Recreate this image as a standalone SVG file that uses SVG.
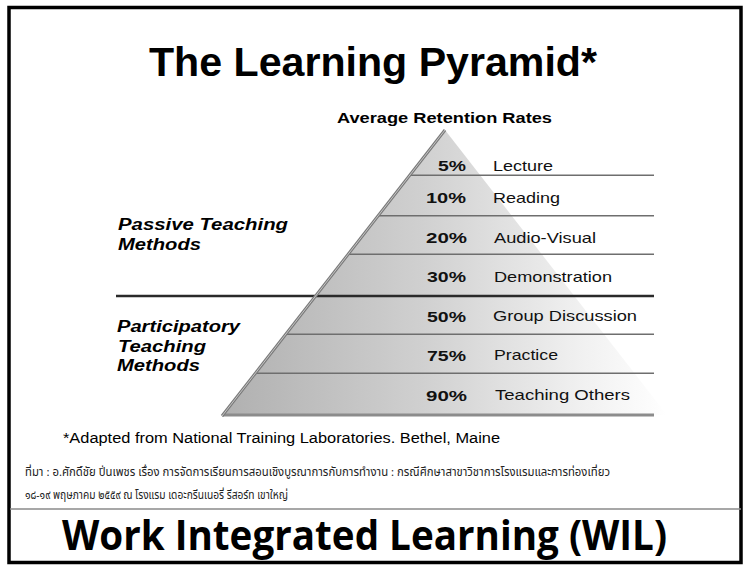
<svg xmlns="http://www.w3.org/2000/svg" width="746" height="565" viewBox="0 0 746 565">
<defs>
<linearGradient id="pyr" gradientUnits="userSpaceOnUse" x1="223" y1="0" x2="667" y2="0">
<stop offset="0" stop-color="#b0b0b0"/>
<stop offset="0.45" stop-color="#d0d0d0"/>
<stop offset="0.8" stop-color="#f0f0f0"/>
<stop offset="1" stop-color="#ffffff"/>
</linearGradient>
<style>
.ar{font-family:"Liberation Sans",Arial,sans-serif;fill:#000}
.b{font-weight:bold}
.bi{font-weight:bold;font-style:italic}
.pct{font-family:"Liberation Sans",Arial,sans-serif;font-weight:bold;font-size:15px;text-anchor:end;fill:#111}
.lbl{font-family:"Liberation Sans",Arial,sans-serif;font-size:15px;fill:#111}
.div{stroke:#6e6e6e;stroke-width:1.5;fill:none}
.thai{font-family:"Noto Sans Thai",Tahoma,"Noto Sans","DejaVu Sans",sans-serif;font-size:11.5px;fill:#222}
</style>
</defs>
<rect x="0" y="0" width="746" height="565" fill="#fff"/>
<rect x="9" y="7.5" width="732" height="555" fill="none" stroke="#000" stroke-width="3.5"/>
<line x1="10" y1="509" x2="741" y2="509" stroke="#8a8a8a" stroke-width="1.5"/>

<g id="title">
<text class="ar b" x="149" y="76" font-size="40" textLength="448" lengthAdjust="spacingAndGlyphs">The Learning Pyramid*</text>
</g>
<g id="subtitle">
<text class="ar b" x="337" y="123" font-size="14" textLength="215" lengthAdjust="spacingAndGlyphs">Average Retention Rates</text>
</g>

<g id="pyramid">
<polygon points="445,130 223,415 667,415" fill="url(#pyr)"/>
</g>

<g id="connectors">
<line class="div" x1="409.7" y1="175.3" x2="654" y2="175.3"/>
<line class="div" x1="378.2" y1="215.7" x2="654" y2="215.7"/>
<line class="div" x1="348.2" y1="254.3" x2="654" y2="254.3"/>
<line x1="116" y1="296" x2="654" y2="296" stroke="#2a2a2a" stroke-width="2.5"/>
<line class="div" x1="285.8" y1="334.3" x2="654" y2="334.3"/>
<line class="div" x1="255.5" y1="373.3" x2="654" y2="373.3"/>
<line x1="222" y1="415" x2="654" y2="415" stroke="#8c8c8c" stroke-width="3"/>
<line x1="445" y1="130" x2="222" y2="416" stroke="#7a7a7a" stroke-width="3"/>
<line x1="445" y1="130" x2="222" y2="416" stroke="#d8d8d8" stroke-width="0.8"/>
</g>

<g id="row-lecture">
<text class="pct" x="466" y="170.5" textLength="28" lengthAdjust="spacingAndGlyphs">5%</text>
<text class="lbl" x="493" y="170.5" textLength="60" lengthAdjust="spacingAndGlyphs">Lecture</text>
</g>
<g id="row-reading">
<text class="pct" x="466" y="203" textLength="40" lengthAdjust="spacingAndGlyphs">10%</text>
<text class="lbl" x="493" y="203" textLength="67" lengthAdjust="spacingAndGlyphs">Reading</text>
</g>
<g id="row-av">
<text class="pct" x="467" y="242.5" textLength="41" lengthAdjust="spacingAndGlyphs">20%</text>
<text class="lbl" x="494" y="242.5" textLength="102" lengthAdjust="spacingAndGlyphs">Audio-Visual</text>
</g>
<g id="row-demo">
<text class="pct" x="466" y="281.5" textLength="39" lengthAdjust="spacingAndGlyphs">30%</text>
<text class="lbl" x="494" y="281.5" textLength="118" lengthAdjust="spacingAndGlyphs">Demonstration</text>
</g>
<g id="row-group">
<text class="pct" x="466" y="321.5" textLength="39" lengthAdjust="spacingAndGlyphs">50%</text>
<text class="lbl" x="493" y="321" textLength="144" lengthAdjust="spacingAndGlyphs">Group Discussion</text>
</g>
<g id="row-practice">
<text class="pct" x="466" y="360.5" textLength="39" lengthAdjust="spacingAndGlyphs">75%</text>
<text class="lbl" x="494" y="360" textLength="64" lengthAdjust="spacingAndGlyphs">Practice</text>
</g>
<g id="row-teaching">
<text class="pct" x="467" y="401" textLength="41" lengthAdjust="spacingAndGlyphs">90%</text>
<text class="lbl" x="495" y="400" textLength="135" lengthAdjust="spacingAndGlyphs">Teaching Others</text>
</g>

<g id="passive">
<text class="ar bi" font-size="16" x="118" y="230" textLength="170" lengthAdjust="spacingAndGlyphs">Passive Teaching</text>
<text class="ar bi" font-size="16" x="118" y="250" textLength="83" lengthAdjust="spacingAndGlyphs">Methods</text>
</g>
<g id="participatory">
<text class="ar bi" font-size="16" x="117" y="331.5" textLength="123" lengthAdjust="spacingAndGlyphs">Participatory</text>
<text class="ar bi" font-size="16" x="118" y="351.5" textLength="88" lengthAdjust="spacingAndGlyphs">Teaching</text>
<text class="ar bi" font-size="16" x="117" y="370.5" textLength="83" lengthAdjust="spacingAndGlyphs">Methods</text>
</g>

<g id="footnote">
<text class="ar" font-size="14" x="63" y="443" textLength="437" lengthAdjust="spacingAndGlyphs">*Adapted from National Training Laboratories. Bethel, Maine</text>
</g>
<g id="source">
<text class="thai" x="25" y="476" textLength="585" lengthAdjust="spacingAndGlyphs">ที่มา : อ.ศักดิ์ชัย ปิ่นเพชร เรื่อง การจัดการเรียนการสอนเชิงบูรณาการกับการทำงาน : กรณีศึกษาสาขาวิชาการโรงแรมและการท่องเที่ยว</text>
<text class="thai" x="25" y="499" textLength="263" lengthAdjust="spacingAndGlyphs">๑๘-๑๙ พฤษภาคม ๒๕๕๙ ณ โรงแรม เดอะกรีนเนอรี่ รีสอร์ท เขาใหญ่</text>
</g>
<g id="footer">
<text x="62" y="550" font-family="'Open Sans','Noto Sans',sans-serif" font-weight="bold" font-size="42" fill="#000" textLength="605" lengthAdjust="spacingAndGlyphs">Work Integrated Learning (WIL)</text>
</g>
</svg>
